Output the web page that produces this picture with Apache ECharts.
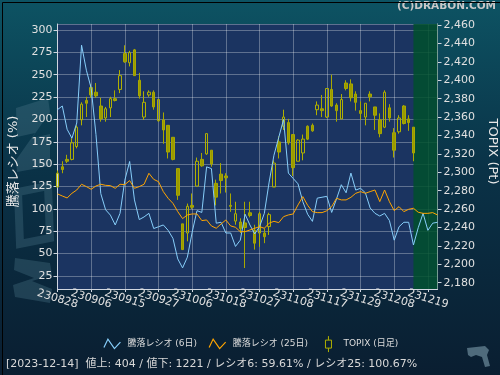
<!DOCTYPE html>
<html><head><meta charset="utf-8">
<script src="https://cdn.jsdelivr.net/npm/echarts@6/dist/echarts.min.js"></script>
<style>html,body{margin:0;padding:0;background:#0a2a3c;overflow:hidden}#c{width:500px;height:375px}</style>
</head><body><div id="c"></div>
<script>
// ---- data ----
const dates = ['230828','230829','230830','230831','230901','230904','230905','230906','230907','230908',
  '230911','230912','230913','230914','230915','230919','230920','230921','230922','230925',
  '230926','230927','230928','230929','231002','231003','231004','231005','231006','231010',
  '231011','231012','231013','231016','231017','231018','231019','231020','231023','231024',
  '231025','231026','231027','231030','231031','231101','231102','231106','231107','231108',
  '231109','231110','231113','231114','231115','231116','231117','231120','231121','231122',
  '231124','231127','231128','231129','231130','231201','231204','231205','231206','231207',
  '231208','231211','231212','231213','231214','231215','231218','231219','231220','231221'];
const xTickLabels = ['230828','230906','230915','230927','231006','231018','231027','231108','231117','231129','231208','231219'];
const ratio6 = [211,215,189,179,196,283,255,235,183,117,99,93,82,95,132,153,110,88,91,95,
  78,80,82,76,67,44,34,46,74,98,96,147,145,84,85,73,73,58,65,94,
  82,72,80,95,130,160,180,200,140,134,128,108,94,86,112,113,114,96,111,127,
  118,140,121,123,118,101,95,92,95,87,65,80,85,85,59.61,79,95,76,84,85];
const ratio25 = [116.7,114.4,112.2,117.4,121.1,127.5,124.9,121.9,125.6,127.5,126.3,126,123,127.5,127.1,131.6,123,124.9,127.5,139.8,
  133,130.4,119.3,111.8,106.2,96.9,89.1,93.2,94.3,94.3,86.9,87.6,80.9,78.3,83.1,87.6,80.9,79.4,74.5,74.5,
  76.4,78.3,80.1,78.3,84,86.1,84.6,91.3,93.2,94.3,104.4,113.7,104,96.9,95.8,95.8,97.9,102.5,111.8,110,
  110,112.9,117.4,119.3,117.4,119.3,121.1,108.1,121.1,108.1,98,102.5,96.9,99.5,100.67,96.2,95,95,95.8,93.2];
const topixOpen  = [2284,2306,2314,2314,2328,2357,2378,2392,2387,2372,2359,2370,2380,2390,2429,2419,2433,2400,2360,2384,
  2387,2356,2357,2351,2338,2304,2244,2234,2264,2285,2314,2320,2324,2288,2298,2296,2264,2247,2246,2245,
  2256,2237,2234,2234,2241,2284,2333,2350,2354,2341,2312,2321,2350,2351,2368,2369,2360,2390,2373,2358,
  2397,2396,2385,2367,2360,2385,2371,2357,2349,2370,2343,2344,2372,2358,2349];
const topixClose = [2299,2303,2312,2332,2349,2374,2375,2384,2383,2358,2369,2380,2378,2405,2420,2430,2405,2383,2376,2387,
  2371,2379,2346,2322,2314,2275,2216,2263,2262,2312,2307,2342,2309,2273,2291,2294,2263,2255,2239,2240,
  2253,2223,2255,2230,2254,2310,2322,2360,2332,2305,2335,2336,2336,2345,2373,2367,2391,2372,2367,2379,
  2391,2381,2376,2364,2375,2382,2362,2342,2387,2359,2324,2359,2353,2354,2321];
const topixLow   = [2284,2299,2310,2313,2326,2351,2360,2381,2381,2355,2355,2360,2377,2386,2419,2415,2405,2380,2357,2382,
  2368,2355,2331,2315,2313,2270,2216,2225,2260,2285,2306,2319,2306,2264,2277,2278,2257,2243,2234,2196,
  2251,2216,2219,2223,2232,2284,2315,2346,2330,2296,2312,2313,2335,2344,2362,2360,2359,2371,2355,2358,
  2389,2377,2367,2357,2351,2377,2346,2338,2348,2355,2316,2342,2352,2345,2312];
const topixHigh  = [2302,2312,2319,2337,2351,2376,2382,2396,2397,2381,2371,2382,2389,2411,2438,2432,2434,2408,2388,2389,
  2389,2380,2365,2351,2338,2304,2244,2266,2277,2316,2321,2342,2324,2292,2310,2299,2277,2268,2250,2268,
  2268,2243,2257,2239,2256,2313,2339,2368,2358,2341,2336,2341,2351,2353,2377,2384,2391,2406,2375,2385,
  2400,2401,2388,2377,2375,2388,2371,2364,2389,2374,2348,2362,2373,2362,2349];
const footerText = '[2023-12-14]  値上: 404 / 値下: 1221 / レシオ6: 59.61% / レシオ25: 100.67%';

// ---- chart ----
const FONT = '"DejaVu Sans", "Noto Sans CJK JP", sans-serif';
const candleData = topixOpen.map((o, i) => [o, topixClose[i], topixLow[i], topixHigh[i]]);
const showTick = (idx, val) => xTickLabels.indexOf(val) >= 0;
const showEven = (idx, val) => { const k = xTickLabels.indexOf(val); return k >= 0 && k % 2 === 0; };
const showOdd = (idx, val) => { const k = xTickLabels.indexOf(val); return k >= 0 && k % 2 === 1; };
const comma = v => String(Math.round(v)).replace(/\B(?=(\d{3})+(?!\d))/g, ',');
const AX = '#d0d6e0';
const GRIDLINE = 'rgba(255,255,255,0.3)';
const WM = 'rgba(80,120,140,0.33)';
const xLabelStyle = {rotate: -17, align: 'center', verticalAlign: 'middle', margin: 10,
  showMinLabel: true, showMaxLabel: true, hideOverlap: false,
  color: '#e0e0e0', fontSize: 11, fontFamily: FONT};

const chart = echarts.init(document.getElementById('c'), null, {renderer: 'canvas'});
chart.setOption({
  animation: false,
  backgroundColor: {type: 'linear', x: 0, y: 0, x2: 0, y2: 1, colorStops: [
    {offset: 0, color: '#0d5363'}, {offset: 0.45, color: '#0a3247'}, {offset: 1, color: '#0a1e31'}]},
  textStyle: {fontFamily: FONT},
  title: [
    {text: '(C)DRABON.COM', right: 4, top: 1, padding: 0,
     textStyle: {color: '#c8c8c8', fontSize: 10.5, fontWeight: 'bold', fontFamily: FONT}},
    {text: footerText, left: 6, top: 359, padding: 0,
     textStyle: {color: '#d8d8d8', fontSize: 11, fontWeight: 'normal', fontFamily: FONT}}
  ],
  legend: {
    top: 335, left: 'center', padding: 0, itemWidth: 20, itemHeight: 17, itemGap: 10,
    textStyle: {color: '#dddddd', fontSize: 9, fontFamily: FONT},
    data: [
      {name: '騰落レシオ (6日)', icon: 'path://M0,0 M20,17 M1.5,12 L5.5,3.5 L12,13 L18,6.5',
       itemStyle: {color: 'rgba(0,0,0,0)', borderColor: '#87cefa', borderWidth: 1.2}},
      {name: '騰落レシオ (25日)', icon: 'path://M0,0 M20,17 M1.5,12 L5.5,3.5 L12,13 L18,6.5',
       itemStyle: {color: 'rgba(0,0,0,0)', borderColor: '#ffa500', borderWidth: 1.2}},
      {name: 'TOPIX (日足)', icon: 'path://M0,0 M20,17 M10,0.5 L10,4.5 M7,4.5 L13,4.5 L13,12.5 L7,12.5 Z M10,12.5 L10,16.5',
       itemStyle: {color: 'rgba(0,0,0,0)', borderColor: '#b0b000', borderWidth: 1}}
    ]
  },
  grid: {left: 57.5, top: 24, width: 380, height: 265, show: true, backgroundColor: '#1b3461', borderWidth: 0,
    containLabel: false, outerBoundsMode: 'none'},
  xAxis: [
    {type: 'category', data: dates, boundaryGap: false, position: 'bottom',
     axisLine: {lineStyle: {color: AX}},
     axisTick: {interval: showTick, length: 3, lineStyle: {color: AX}},
     axisLabel: Object.assign({interval: showEven}, xLabelStyle),
     splitLine: {show: true, interval: showTick, lineStyle: {color: GRIDLINE, width: 1}}},
    {type: 'category', data: dates, boundaryGap: false, position: 'bottom', offset: 0,
     axisLine: {show: false}, axisTick: {show: false},
     axisLabel: Object.assign({interval: showOdd}, xLabelStyle),
     splitLine: {show: false}}
  ],
  yAxis: [
    {type: 'value', position: 'left', min: 10.4, max: 306.7, minInterval: 25, maxInterval: 25,
     axisLine: {show: true, lineStyle: {color: AX}},
     axisTick: {show: true, length: 4, lineStyle: {color: AX}},
     axisLabel: {color: '#e0e0e0', fontSize: 11, margin: 5, showMinLabel: false, showMaxLabel: false, fontFamily: FONT},
     splitLine: {show: true, lineStyle: {color: GRIDLINE, width: 1}},
     name: '騰落レシオ (%)', nameLocation: 'middle', nameGap: 33,
     nameTextStyle: {color: '#e8e8e8', fontSize: 13, padding: [0, 10, 0, 0], fontFamily: FONT}},
    {type: 'value', position: 'right', min: 2173.2, max: 2461.1, minInterval: 20, maxInterval: 20,
     axisLine: {show: true, lineStyle: {color: AX}},
     axisTick: {show: true, length: 4, lineStyle: {color: AX}},
     axisLabel: {color: '#e0e0e0', fontSize: 11, margin: 6, showMinLabel: false, showMaxLabel: false,
       formatter: comma, fontFamily: FONT},
     splitLine: {show: false},
     name: 'TOPIX (Pt)', nameLocation: 'middle', nameRotate: -90, nameGap: 42,
     nameTextStyle: {color: '#e8e8e8', fontSize: 13, padding: [0, 10, 0, 0], fontFamily: FONT}}
  ],
  series: [
    {type: 'candlestick', name: 'TOPIX (日足)', yAxisIndex: 1, data: candleData, barWidth: 3,
     itemStyle: {color: 'rgba(0,0,0,0)', color0: '#9a9a00', borderColor: '#b0b000', borderColor0: '#a8a800', borderWidth: 1},
     markArea: {silent: true, itemStyle: {color: 'rgba(0,80,45,0.85)'},
       data: [[{xAxis: '231214'}, {xAxis: '231221'}]]}},
    {type: 'line', name: '騰落レシオ (6日)', yAxisIndex: 0, data: ratio6, showSymbol: false,
     lineStyle: {color: '#87cefa', width: 1}, itemStyle: {color: '#87cefa'}},
    {type: 'line', name: '騰落レシオ (25日)', yAxisIndex: 0, data: ratio25, showSymbol: false,
     lineStyle: {color: '#ffa500', width: 1}, itemStyle: {color: '#ffa500'}}
  ],
  graphic: [
    // faint watermark shapes on the left margin
    {type: 'polygon', silent: true, z: -1,
     shape: {points: [[15,258],[50,263],[52,275],[32,281],[52,289],[50,303],[15,297],[13,285],[34,278],[14,270]]},
     style: {fill: WM}},
    {type: 'polygon', silent: true, z: -1,
     shape: {points: [[18,192],[48,186],[50,238],[20,244]]},
     style: {fill: 'none', stroke: WM, lineWidth: 8}},
    {type: 'polygon', silent: true, z: -1,
     shape: {points: [[16,108],[48,98],[50,112],[32,138],[50,134],[50,166],[17,172],[16,160],[35,133],[17,137]]},
     style: {fill: WM}},
    {type: 'polygon', silent: true, z: -1,
     shape: {points: [[467,348],[485,346],[489,350],[487,355],[490,366],[485,367],[482,357],[476,355],[471,357],[468,355]]},
     style: {fill: '#4f6b7c'}},
    {type: 'rect', left: 0, top: 0, shape: {width: 499, height: 374}, silent: true, z: 100,
     style: {fill: 'none', stroke: '#000', lineWidth: 1}}
  ]
});
</script></body></html>
